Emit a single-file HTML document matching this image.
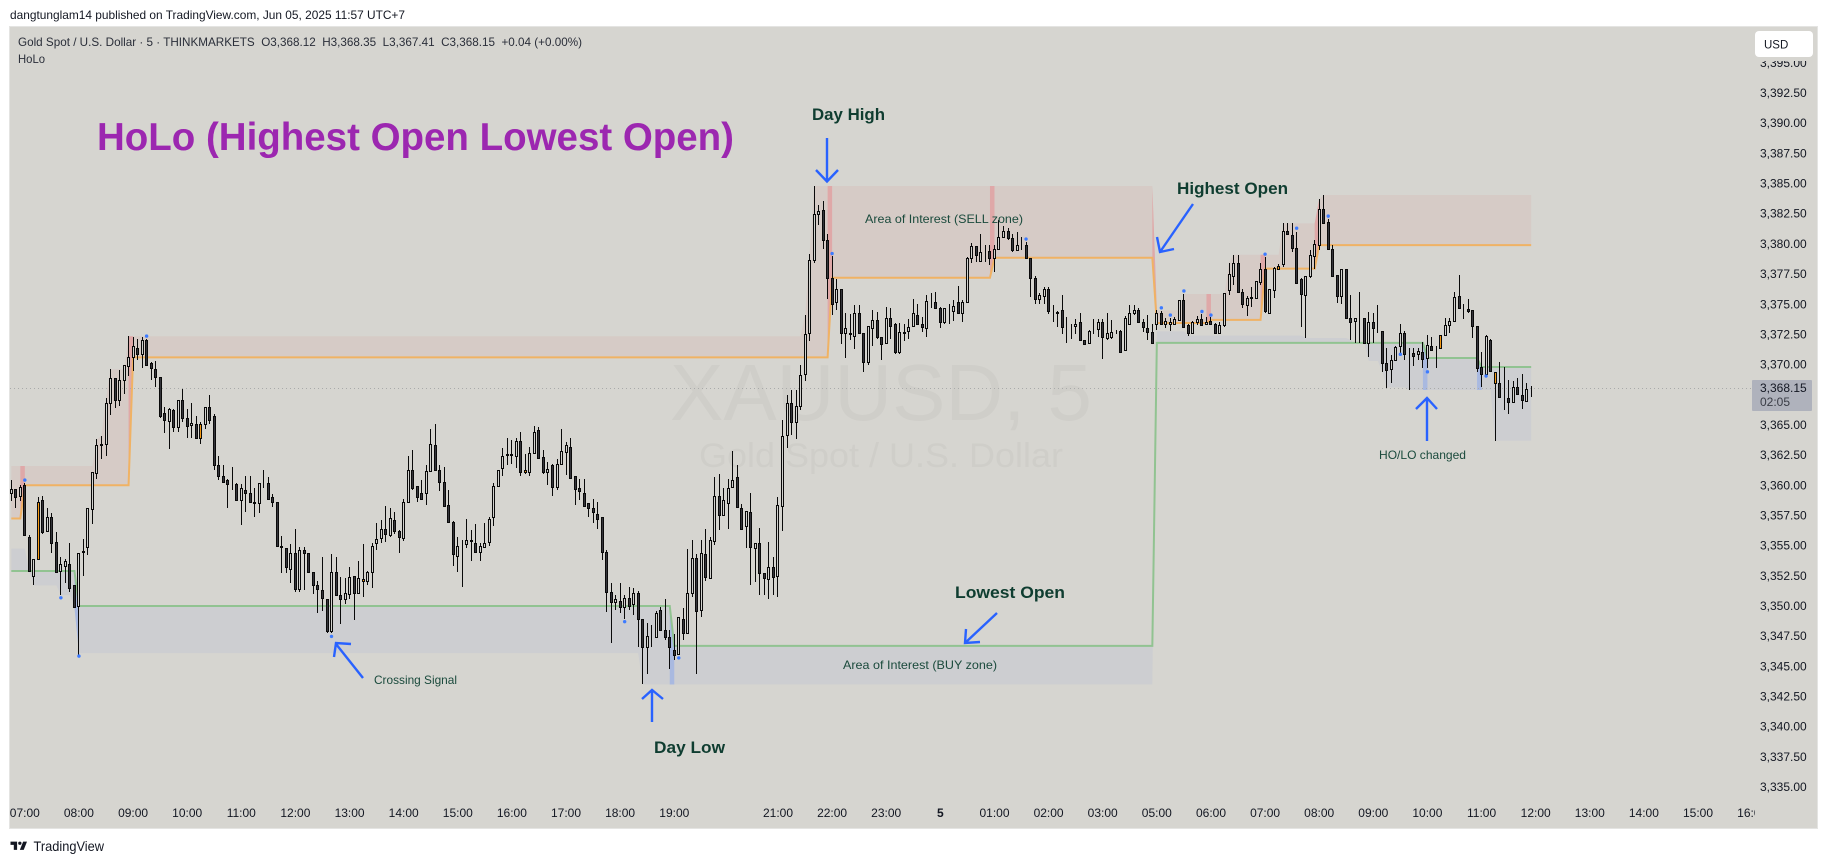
<!DOCTYPE html>
<html lang="en">
<head>
<meta charset="utf-8">
<title>HoLo XAUUSD chart</title>
<style>
html,body{margin:0;padding:0;background:#fff;width:1827px;height:863px;overflow:hidden}
svg{display:block;font-family:"Liberation Sans",sans-serif}
</style>
</head>
<body>
<svg id="chart-svg" xmlns="http://www.w3.org/2000/svg" width="1827" height="863" viewBox="0 0 1827 863">
<defs><clipPath id="time-clip"><rect x="10" y="790" width="1745" height="38"/></clipPath></defs>
<rect x="0" y="0" width="1827" height="863" fill="#ffffff"/>
<text x="10" y="19" font-size="12" fill="#131722" textLength="395" lengthAdjust="spacingAndGlyphs">dangtunglam14 published on TradingView.com, Jun 05, 2025 11:57 UTC+7</text>
<rect x="9.5" y="26.5" width="1808" height="802" fill="#d6d5d0" stroke="#e4e4e2" stroke-width="1"/>
<text x="881" y="420" font-size="80" text-anchor="middle" fill="#cfcec9" textLength="422" lengthAdjust="spacingAndGlyphs">XAUUSD, 5</text>
<text x="881" y="467" font-size="34" text-anchor="middle" fill="#cfcec9" textLength="364" lengthAdjust="spacingAndGlyphs">Gold Spot / U.S. Dollar</text>
<g id="zones"></g>
<line id="price-line" x1="10" x2="1752" y1="388.5" y2="388.5" stroke="#a9aaaa" stroke-width="1" stroke-dasharray="1 3"/>
<g id="lines"></g>
<g id="candles"></g>
<g id="dots"></g>
<g id="price-ticks"></g>
<g id="time-ticks" clip-path="url(#time-clip)"></g>
<rect x="1752" y="380" width="60" height="31" rx="1" fill="#afb2bc"/>
<text id="last-price-label" x="1760" y="392" font-size="12" fill="#131722">3,368.15</text>
<text x="1760" y="406" font-size="12" fill="#3a3d46">02:05</text>
<rect x="1755" y="56" width="58" height="5" fill="#d6d5d0"/>
<rect x="1755" y="31" width="58" height="26" rx="4" fill="#ffffff"/>
<text x="1764" y="48.5" font-size="11.5" fill="#131722">USD</text>
<text x="18" y="46" font-size="12" fill="#2a2e39" textLength="564" lengthAdjust="spacingAndGlyphs">Gold Spot / U.S. Dollar · 5 · THINKMARKETS&#160;&#160;O3,368.12&#160;&#160;H3,368.35&#160;&#160;L3,367.41&#160;&#160;C3,368.15&#160;&#160;+0.04 (+0.00%)</text>
<text x="18" y="63" font-size="12" fill="#2a2e39" textLength="27" lengthAdjust="spacingAndGlyphs">HoLo</text>
<text x="97" y="150" font-size="39" font-weight="700" fill="#9c27b0" textLength="637" lengthAdjust="spacingAndGlyphs">HoLo (Highest Open Lowest Open)</text>
<text x="812" y="120" font-size="17" font-weight="700" fill="#0f3d30" textLength="73" lengthAdjust="spacingAndGlyphs">Day High</text>
<text x="654" y="753" font-size="17" font-weight="700" fill="#0f3d30" textLength="71" lengthAdjust="spacingAndGlyphs">Day Low</text>
<text x="1177" y="194" font-size="17" font-weight="700" fill="#0f3d30" textLength="111" lengthAdjust="spacingAndGlyphs">Highest Open</text>
<text x="955" y="598" font-size="17" font-weight="700" fill="#0f3d30" textLength="110" lengthAdjust="spacingAndGlyphs">Lowest Open</text>
<text x="865" y="223" font-size="12" fill="#1a4a3c" textLength="158" lengthAdjust="spacingAndGlyphs">Area of Interest (SELL zone)</text>
<text x="843" y="669" font-size="12" fill="#1a4a3c" textLength="154" lengthAdjust="spacingAndGlyphs">Area of Interest (BUY zone)</text>
<text x="374" y="684" font-size="12" fill="#1a4a3c" textLength="83" lengthAdjust="spacingAndGlyphs">Crossing Signal</text>
<text x="1379" y="459" font-size="12" fill="#1a4a3c" textLength="87" lengthAdjust="spacingAndGlyphs">HO/LO changed</text>
<g fill="none" stroke="#2962ff" stroke-width="2.4">
<path d="M827 138V181M816 170L827 181.5L838 170"/>
<path d="M652 722V691M642 699L652 690L663 699"/>
<path d="M363 678L336 644M334 657L336 643L351 644"/>
<path d="M997 613L965 643M966 629L965 643L980 642"/>
<path d="M1193 204L1160 252M1157 237L1160 252L1174 249"/>
<path d="M1427 441V398M1416 409L1427 398L1437 409"/>
</g>
<path transform="translate(9.4 838.3) scale(.55)" fill="#131722" d="M14 6H2v6h6v9h6V6zm12 15h-7l6-15h7l-6 15zm-7-9a3 3 0 1 0 0-6 3 3 0 0 0 0 6z"/>
<text x="33.5" y="851" font-size="14" fill="#131722" textLength="70.5" lengthAdjust="spacingAndGlyphs">TradingView</text>
</svg>
<script>
// Bars are numbered from 1 (5-minute candles). Each row: open, high, low, close.
const candleRows=[
[3359.5,3360.5,3358.8,3359.76],[3359.8,3359.8,3358.2,3359.15],[3359.2,3360.1,3358.8,3360.0],[3360.1,3360.3,3355.9,3355.95],[3355.84,3356.0,3352.9,3353.0],
[3352.6,3354.0,3351.8,3354.0],[3354.0,3359.15,3354.0,3358.7],[3358.9,3359.2,3356.1,3356.25],[3356.3,3358.2,3356.3,3357.5],[3357.5,3357.8,3354.5,3355.35],
[3355.4,3356.25,3352.9,3352.95],[3353.0,3354.2,3351.0,3353.55],[3353.4,3354.0,3352.0,3353.8],[3353.6,3355.3,3351.3,3351.6],[3351.8,3351.8,3350.0,3350.0],
[3350.1,3354.5,3346.0,3354.5],[3354.6,3355.65,3352.6,3354.65],[3355.0,3358.25,3354.3,3358.25],[3358.15,3361.2,3356.9,3361.2],[3361.1,3363.9,3360.6,3363.4],
[3363.5,3364.2,3362.3,3363.4],[3363.5,3367.3,3362.5,3366.9],[3366.9,3369.7,3365.9,3369.0],[3369.0,3369.0,3366.5,3367.2],[3367.2,3369.65,3366.7,3368.8],
[3368.8,3370.1,3367.7,3370.1],[3370.0,3372.45,3369.15,3370.7],[3370.7,3372.4,3369.6,3371.6],[3371.5,3372.25,3370.5,3371.0],[3371.0,3372.35,3369.8,3372.1],
[3372.1,3372.25,3370.0,3370.1],[3370.2,3370.35,3368.8,3369.8],[3369.7,3370.4,3368.25,3369.05],[3369.05,3369.05,3365.65,3365.8],[3366.1,3366.55,3364.4,3365.55],
[3365.45,3366.5,3363.1,3366.4],[3366.3,3366.4,3364.55,3364.9],[3364.9,3367.2,3364.55,3367.2],[3367.2,3368.1,3365.35,3365.65],[3365.7,3366.4,3364.05,3365.05],
[3365.1,3366.9,3364.05,3365.3],[3365.2,3365.8,3364.05,3364.05],[3364.05,3365.35,3363.5,3365.2],[3365.2,3366.6,3364.8,3366.6],[3366.6,3367.55,3365.2,3365.55],
[3365.85,3366.0,3361.35,3361.75],[3361.8,3362.5,3360.5,3360.9],[3360.9,3361.8,3360.4,3360.4],[3360.5,3360.6,3358.2,3360.2],[3360.25,3361.6,3359.7,3360.3],
[3360.2,3360.3,3358.9,3358.9],[3358.9,3360.2,3356.85,3359.85],[3359.75,3360.9,3357.9,3359.5],[3359.5,3360.9,3358.6,3358.7],[3358.65,3359.85,3357.45,3358.7],
[3358.6,3360.3,3357.8,3360.25],[3360.25,3361.35,3359.9,3360.3],[3360.25,3360.75,3359.0,3359.0],[3359.1,3359.4,3358.3,3358.7],[3358.7,3358.75,3355.1,3355.1],
[3355.1,3355.9,3352.8,3355.0],[3354.9,3354.9,3352.8,3353.3],[3353.2,3355.2,3352.0,3354.5],[3354.5,3356.5,3351.3,3351.5],[3351.5,3355.0,3351.3,3354.7],
[3354.7,3355.0,3351.4,3354.5],[3354.5,3354.5,3352.95,3352.95],[3352.95,3352.95,3351.1,3351.8],[3351.8,3352.2,3349.5,3351.5],[3351.4,3354.2,3349.7,3350.8],
[3350.7,3350.7,3347.9,3348.0],[3348.0,3354.4,3347.9,3352.9],[3352.9,3354.2,3350.9,3351.0],[3351.0,3352.5,3348.6,3350.65],[3350.65,3352.4,3350.25,3351.2],
[3351.1,3353.3,3350.65,3352.5],[3352.6,3352.6,3348.9,3351.2],[3351.2,3353.8,3351.2,3352.4],[3352.15,3355.2,3350.85,3352.3],[3352.2,3353.0,3351.8,3352.95],
[3352.95,3355.3,3351.55,3355.1],[3355.35,3356.95,3354.75,3355.65],[3355.7,3357.2,3355.35,3356.45],[3356.45,3358.4,3355.4,3356.05],[3356.0,3358.2,3355.85,3357.35],
[3357.25,3357.9,3356.1,3356.3],[3356.3,3356.4,3354.45,3355.8],[3355.7,3358.95,3355.5,3358.75],[3358.7,3362.5,3358.7,3361.35],[3361.4,3363.0,3359.75,3359.9],
[3360.05,3360.05,3358.75,3359.15],[3359.5,3360.5,3358.9,3359.0],[3359.45,3361.75,3358.5,3361.25],[3361.25,3364.75,3361.25,3363.5],[3363.4,3365.2,3361.3,3361.35],
[3361.35,3361.8,3359.6,3360.4],[3360.4,3361.6,3358.3,3358.4],[3358.5,3359.7,3357.0,3357.1],[3357.1,3357.15,3353.4,3354.4],[3354.25,3355.85,3352.95,3355.1],
[3355.3,3355.56,3351.7,3355.3],[3355.2,3357.3,3354.9,3355.6],[3355.6,3356.4,3353.8,3355.5],[3355.35,3356.9,3354.5,3354.6],[3354.6,3355.3,3353.8,3355.1],
[3355.0,3357.0,3354.95,3355.35],[3355.4,3357.5,3355.1,3357.3],[3357.45,3360.25,3356.7,3360.05],[3360.05,3361.4,3360.05,3361.4],[3361.5,3363.2,3360.85,3362.5],
[3362.65,3364.0,3361.8,3362.7],[3362.65,3363.85,3361.9,3362.7],[3362.5,3364.0,3361.55,3363.8],[3363.8,3364.5,3360.85,3361.2],[3361.2,3362.7,3361.0,3361.4],
[3361.2,3363.3,3360.85,3362.75],[3362.75,3365.0,3362.75,3364.55],[3364.65,3364.9,3362.25,3362.4],[3362.45,3363.0,3361.0,3361.2],[3361.2,3362.05,3360.1,3361.45],
[3361.8,3361.9,3359.2,3360.0],[3360.0,3362.3,3359.7,3361.9],[3361.9,3364.75,3361.9,3362.9],[3362.85,3363.65,3360.95,3363.4],[3363.25,3364.0,3360.7,3360.7],
[3360.9,3360.9,3358.45,3359.8],[3359.9,3360.6,3358.85,3359.65],[3359.5,3360.6,3358.3,3358.4],[3358.6,3358.65,3357.5,3358.25],[3358.25,3359.0,3357.0,3357.9],
[3357.75,3358.75,3356.5,3357.3],[3357.5,3357.5,3353.9,3354.6],[3354.6,3354.7,3349.6,3351.3],[3351.3,3352.0,3347.05,3350.45],[3350.4,3351.0,3349.75,3350.65],
[3350.55,3352.0,3349.5,3350.0],[3350.0,3351.0,3349.05,3350.75],[3350.75,3351.65,3349.75,3350.1],[3350.3,3351.55,3349.35,3351.2],[3351.2,3351.35,3346.7,3349.05],
[3349.05,3349.05,3343.6,3346.7],[3346.7,3348.7,3344.45,3347.65],[3347.6,3348.5,3346.7,3347.6],[3347.55,3349.7,3347.55,3349.55],[3349.8,3350.0,3348.0,3348.1],
[3348.15,3350.65,3347.3,3347.55],[3347.55,3348.15,3344.9,3346.7],[3346.45,3347.75,3345.6,3346.0],[3346.15,3349.2,3346.0,3349.2],[3349.05,3349.9,3347.3,3347.85],
[3347.9,3354.8,3347.9,3351.15],[3351.2,3355.55,3350.85,3354.05],[3354.1,3354.4,3344.45,3349.7],[3349.8,3355.55,3349.2,3354.45],[3354.4,3356.45,3352.2,3352.5],
[3352.45,3355.85,3352.3,3355.6],[3355.5,3360.75,3355.15,3359.25],[3359.2,3361.0,3356.4,3357.65],[3357.65,3359.85,3357.6,3358.85],[3358.65,3360.6,3356.5,3359.85],
[3360.0,3362.9,3359.95,3360.5],[3360.75,3361.8,3358.3,3358.3],[3358.2,3358.55,3356.4,3356.45],[3356.75,3358.0,3354.9,3358.0],[3357.85,3359.5,3351.85,3355.0],
[3354.9,3355.3,3352.1,3355.3],[3355.35,3356.6,3351.0,3352.85],[3352.8,3352.8,3351.0,3352.45],[3352.35,3355.4,3350.7,3353.3],[3353.3,3354.2,3351.0,3352.5],
[3352.6,3359.15,3350.85,3358.5],[3358.4,3365.55,3356.35,3364.2],[3364.3,3367.6,3363.15,3366.95],[3366.95,3368.0,3364.3,3365.35],[3365.35,3368.0,3363.9,3366.7],
[3366.7,3370.05,3366.3,3369.2],[3369.3,3374.2,3368.7,3372.6],[3372.7,3379.25,3372.05,3378.75],[3378.8,3384.9,3378.5,3382.6],[3382.55,3383.35,3381.65,3382.8],
[3382.9,3383.65,3379.65,3380.4],[3380.4,3380.9,3375.55,3377.3],[3377.25,3379.1,3374.2,3375.15],[3375.3,3377.2,3374.6,3376.4],[3376.4,3376.4,3371.8,3372.75],
[3372.75,3374.35,3370.65,3373.1],[3372.7,3374.3,3372.1,3372.65],[3372.5,3375.0,3371.4,3374.4],[3374.4,3375.0,3372.7,3372.75],[3372.75,3372.75,3369.5,3370.35],
[3370.35,3373.3,3370.05,3373.3],[3373.15,3374.6,3371.6,3373.8],[3373.8,3374.45,3372.25,3372.35],[3372.35,3372.35,3370.45,3371.8],[3371.85,3374.9,3371.85,3374.0],
[3374.0,3374.75,3372.25,3373.3],[3373.45,3373.55,3370.95,3371.15],[3371.15,3373.55,3371.0,3372.8],[3372.75,3373.5,3372.05,3372.8],[3372.85,3373.85,3372.25,3373.2],
[3373.3,3375.5,3373.2,3374.4],[3374.25,3375.15,3373.45,3373.5],[3373.5,3374.05,3372.8,3373.2],[3373.1,3375.85,3372.4,3375.4],[3375.4,3376.05,3374.75,3375.35],
[3375.3,3376.1,3374.75,3374.8],[3374.8,3374.9,3373.1,3373.65],[3373.6,3374.8,3373.5,3374.8],[3374.6,3375.1,3373.5,3374.6],[3374.5,3375.45,3373.7,3374.95],
[3375.25,3376.65,3374.4,3374.4],[3374.4,3375.45,3373.65,3375.25],[3375.3,3379.0,3375.2,3378.95],[3378.95,3380.15,3378.55,3379.95],[3379.95,3379.95,3378.6,3379.2],
[3378.7,3380.9,3378.6,3379.4],[3379.55,3380.0,3378.6,3379.55],[3379.5,3380.0,3378.35,3378.95],[3378.95,3380.0,3377.8,3379.7],[3379.7,3382.05,3379.7,3380.65],
[3380.7,3381.55,3380.65,3381.15],[3381.15,3381.4,3380.45,3380.6],[3380.6,3380.9,3379.45,3379.6],[3379.6,3381.1,3379.6,3380.0],[3380.0,3380.65,3379.6,3380.0],
[3380.0,3380.25,3378.85,3378.9],[3378.9,3378.9,3375.7,3377.3],[3377.3,3377.4,3375.15,3375.5],[3375.5,3376.0,3375.15,3375.85],[3375.8,3376.5,3375.15,3376.35],
[3376.35,3376.5,3374.3,3374.55],[3374.5,3375.0,3373.6,3374.5],[3374.45,3374.55,3373.25,3374.4],[3374.6,3375.9,3372.65,3373.25],[3373.3,3374.05,3371.85,3373.3],
[3373.25,3373.5,3372.2,3373.25],[3373.3,3373.9,3372.65,3373.5],[3373.65,3374.4,3372.1,3372.1],[3372.1,3372.1,3371.8,3371.8],[3371.9,3372.95,3371.85,3372.9],
[3373.05,3373.9,3372.65,3373.05],[3373.05,3373.85,3372.4,3373.65],[3373.65,3373.9,3370.6,3372.35],[3372.3,3374.4,3372.1,3372.75],[3372.35,3373.8,3372.2,3372.8],
[3372.75,3372.95,3372.6,3372.75],[3372.9,3372.95,3371.15,3371.15],[3371.3,3374.1,3371.25,3374.0],[3373.5,3375.0,3373.35,3374.4],[3374.4,3375.0,3374.2,3374.6],
[3374.65,3374.75,3373.6,3373.65],[3373.6,3373.9,3372.8,3373.25],[3373.15,3374.2,3372.1,3372.8],[3372.8,3373.5,3371.8,3371.85],[3373.5,3374.6,3372.95,3374.35],
[3374.35,3374.5,3373.45,3373.5],[3373.5,3373.95,3373.1,3373.75],[3373.5,3373.95,3372.9,3373.65],[3373.5,3374.05,3373.45,3373.85],[3373.8,3375.45,3373.75,3375.45],
[3375.45,3375.95,3373.2,3373.25],[3373.35,3373.45,3372.5,3372.75],[3372.75,3373.75,3372.7,3373.6],[3373.65,3374.1,3373.35,3373.85],[3373.85,3374.3,3373.3,3373.35],
[3373.5,3374.05,3373.45,3373.65],[3373.75,3374.05,3373.35,3373.45],[3373.5,3373.55,3372.65,3372.7],[3372.75,3373.65,3372.7,3373.35],[3373.35,3376.0,3373.25,3376.0],
[3376.3,3378.55,3375.85,3377.6],[3377.45,3379.2,3376.7,3378.5],[3378.55,3379.15,3376.1,3376.15],[3376.1,3376.35,3374.8,3375.1],[3375.0,3375.8,3374.15,3375.6],
[3375.65,3376.55,3374.85,3375.7],[3375.65,3377.0,3375.6,3377.0],[3376.95,3378.5,3376.7,3378.0],[3378.0,3379.0,3374.35,3374.5],[3374.35,3376.35,3374.3,3376.35],
[3376.25,3378.2,3375.6,3378.1],[3378.05,3378.4,3377.95,3378.3],[3378.4,3381.8,3378.2,3381.2],[3381.2,3381.8,3380.85,3380.9],[3380.8,3381.8,3379.45,3379.8],
[3379.8,3381.1,3376.75,3376.85],[3377.2,3377.25,3373.25,3375.95],[3375.9,3377.4,3372.3,3377.4],[3377.45,3379.6,3377.25,3379.2],[3379.1,3380.4,3378.05,3380.1],
[3380.0,3383.8,3379.6,3382.95],[3382.95,3384.15,3381.75,3381.85],[3381.9,3382.15,3379.65,3379.7],[3379.65,3380.0,3377.4,3377.45],[3377.5,3377.5,3375.2,3375.8],
[3375.8,3378.05,3375.15,3378.0],[3378.0,3378.0,3373.85,3374.0],[3373.95,3375.9,3372.15,3373.65],[3373.75,3373.95,3371.85,3373.95],[3373.9,3376.1,3371.9,3373.9],
[3373.95,3373.95,3371.85,3371.9],[3371.85,3374.45,3370.75,3373.6],[3373.6,3374.35,3371.85,3373.1],[3373.0,3375.05,3372.7,3373.0],[3372.85,3372.9,3369.5,3370.2],
[3370.2,3371.45,3368.2,3369.65],[3369.7,3370.9,3368.55,3370.45],[3370.45,3371.65,3370.4,3371.55],[3371.6,3373.45,3370.9,3372.7],[3372.7,3372.9,3370.45,3370.95],
[3371.0,3371.45,3368.0,3371.0],[3371.05,3371.5,3369.95,3370.85],[3370.95,3371.5,3370.45,3371.2],[3371.15,3371.95,3369.8,3370.6],[3370.65,3372.55,3369.8,3371.75],
[3371.65,3372.4,3371.3,3371.35],[3371.4,3371.6,3369.85,3371.4],[3371.45,3372.55,3371.45,3372.55],[3372.55,3373.95,3372.55,3373.35],[3373.35,3373.95,3372.7,3373.75],
[3373.75,3376.1,3373.75,3375.7],[3375.75,3377.55,3374.7,3374.75],[3374.7,3375.1,3373.85,3374.7],[3374.7,3375.55,3374.4,3374.5],[3374.6,3374.6,3372.3,3373.3],
[3373.3,3373.3,3369.5,3369.85],[3369.9,3371.15,3368.25,3369.3],[3369.35,3372.55,3369.3,3372.45],[3372.15,3372.2,3369.5,3369.55],[3369.45,3369.5,3363.8,3368.6],
[3368.6,3370.35,3367.35,3367.4],[3367.4,3369.9,3366.3,3367.4],[3367.3,3368.8,3366.0,3367.0],[3367.0,3368.75,3367.0,3368.25],[3368.25,3368.95,3367.55,3367.7],
[3367.6,3369.3,3366.45,3367.2],[3367.1,3368.55,3367.1,3368.1],[3368.12,3368.35,3367.41,3368.15]
];
// Bars where the candle is painted orange by the indicator
const orangeBars=[7,43,79,115,282,318,330];
const lastPrice=3368.15;

// HoLo step series: the first bar of each level, and the level
const highestOpenBars=[1,4,28,183,219,255,267,279,291];
const highestOpenValues=[3357.35,3360.1,3370.7,3377.3,3378.95,3373.55,3373.8,3378.05,3380.0];
const lowestOpenBars=[1,16,148,255,315,327];
const lowestOpenValues=[3353.0,3350.1,3346.8,3371.9,3370.65,3369.9];
const dayHighBars=[1,20,21,22,23,27,177,178,179,255,261,271,272,283,291,292];
const dayHighValues=[3361.7,3363.9,3364.2,3367.3,3369.7,3372.45,3374.2,3379.25,3384.9,3374.6,3375.95,3378.55,3379.2,3381.8,3383.8,3384.15];
const dayLowBars=[1,5,6,12,15,16,141,255,262,288,298,299,302,305,306,311,330];
const dayLowValues=[3354.85,3352.95,3351.8,3351.0,3350.0,3346.2,3343.6,3372.85,3372.5,3372.3,3372.15,3371.85,3370.4,3369.5,3368.2,3368.0,3363.8];
const sellChangeBars=[4,28,183,219,255,267,279,291];
const buyChangeBars=[16,148,315,327];

// Crossing signal dots
const signalBars=[4,12,16,31,72,137,149,183,226,256,258,261,265,267,279,286,293,309,315,328];
const signalPrices=[3360.53,3350.78,3345.95,3372.46,3347.58,3348.8,3345.8,3379.3,3380.5,3374.8,3374.2,3376.2,3374.5,3374.2,3379.25,3381.4,3382.4,3370.95,3369.5,3369.15];

// Axis ticks
const priceTicks=[3395,3392.5,3390,3387.5,3385,3382.5,3380,3377.5,3375,3372.5,3370,3365,3362.5,3360,3357.5,3355,3352.5,3350,3347.5,3345,3342.5,3340,3337.5,3335];
const timeTickLabels=["07:00","08:00","09:00","10:00","11:00","12:00","13:00","14:00","15:00","16:00","17:00","18:00","19:00","21:00","22:00","23:00","5","01:00","02:00","03:00","05:00","06:00","07:00","08:00","09:00","10:00","11:00","12:00","13:00","14:00","15:00","16:00"];
const timeTickBars=[4,16,28,40,52,64,76,88,100,112,124,136,148,171,183,195,207,219,231,243,255,267,279,291,303,315,327,339,351,363,375,387];

const NS='http://www.w3.org/2000/svg';
function xOf(bar){return 11.3+4.51*(bar-1);}
function yOf(price){return 365.8+(3370-price)*12.07;}
function stepAt(bars,values,bar){let v=values[0];for(let i=0;i<bars.length;i++){if(bars[i]<=bar)v=values[i];}return v;}
function mk(tag,parent,attrs){const el=document.createElementNS(NS,tag);for(const k in attrs)el.setAttribute(k,attrs[k]);parent.appendChild(el);return el;}

const barCount=candleRows.length;
const barNums=[];for(let b=1;b<=barCount;b++)barNums.push(b);
const zones=document.getElementById('zones');
const lines=document.getElementById('lines');
const candles=document.getElementById('candles');
const dots=document.getElementById('dots');
const priceAxis=document.getElementById('price-ticks');
const timeAxis=document.getElementById('time-ticks');

function bandPath(topB,topV,botB,botV,from,to){
  let up='',down='';
  for(let b=from;b<=to;b++){up+=(up?'L':'M')+xOf(b).toFixed(2)+' '+yOf(stepAt(topB,topV,b)).toFixed(2);}
  for(let b=to;b>=from;b--){down+='L'+xOf(b).toFixed(2)+' '+yOf(stepAt(botB,botV,b)).toFixed(2);}
  return up+down+'Z';
}
function linePath(bars,values){
  let d='';
  barNums.forEach(b=>{d+=(d?'L':'M')+xOf(b).toFixed(2)+' '+yOf(stepAt(bars,values,b)).toFixed(2);});
  return d;
}

const sellZone=mk('path',zones,{d:bandPath(dayHighBars,dayHighValues,highestOpenBars,highestOpenValues,1,barCount),fill:'#d6cbc6'});


const buyZone=mk('path',zones,{d:bandPath(dayLowBars,dayLowValues,lowestOpenBars,lowestOpenValues,1,barCount),fill:'#cdced1'});


sellChangeBars.forEach(b=>{
  const m=mk('path',zones,{d:bandPath(dayHighBars,dayHighValues,highestOpenBars,highestOpenValues,b-1,b),fill:'#dfa8a8'});
  
  
});
buyChangeBars.forEach(b=>{
  const m=mk('path',zones,{d:bandPath(dayLowBars,dayLowValues,lowestOpenBars,lowestOpenValues,b-1,b),fill:'#a9b9e0'});
  
  
});

const priceLine=document.getElementById('price-line');
const lastY=Math.round(yOf(lastPrice))+0.5;
priceLine.setAttribute('y1',lastY);
priceLine.setAttribute('y2',lastY);

const hoLine=mk('path',lines,{d:linePath(highestOpenBars,highestOpenValues),fill:'none',stroke:'#f0b264','stroke-width':2});


const loLine=mk('path',lines,{d:linePath(lowestOpenBars,lowestOpenValues),fill:'none',stroke:'#91c391','stroke-width':2});



candleRows.forEach((row,i)=>{
  const bar=i+1,o=row[0],h=row[1],l=row[2],c=row[3];
  const X=Math.floor(xOf(bar))+0.5;
  const wick=mk('line',candles,{x1:X,x2:X,y1:Math.round(yOf(h)),y2:Math.round(yOf(l)),stroke:'#0a0a0a','stroke-width':1});
  
  
  const top=Math.round(yOf(Math.max(o,c)))+0.5,bot=Math.round(yOf(Math.min(o,c)))+0.5;
  const fill=orangeBars.indexOf(bar)>=0?'#f59a13':(c>=o?'#d2d2ce':'#34343a');
  const body=mk('rect',candles,{x:X-1,y:top,width:2,height:bot-top,fill:fill,stroke:'#0a0a0a','stroke-width':1});
  
  
});

signalBars.forEach((b,i)=>{
  const d=mk('circle',dots,{cx:xOf(b).toFixed(2),cy:yOf(signalPrices[i]).toFixed(2),r:1.7,fill:'#3d7bff'});
  
  
});

priceTicks.forEach(p=>{
  const t=mk('text',priceAxis,{x:1806.7,y:(yOf(p)+2.8).toFixed(1),'text-anchor':'end','font-size':12,fill:'#131722'});
  t.textContent=p.toLocaleString('en-US',{minimumFractionDigits:2,maximumFractionDigits:2});
  
  
});

timeTickLabels.forEach((label,i)=>{
  const bold=label==='5';
  const t=mk('text',timeAxis,{x:xOf(timeTickBars[i]).toFixed(1),y:817,'text-anchor':'middle','font-size':12,fill:'#131722','font-weight':bold?700:400});
  t.textContent=label;
  
  
});

document.getElementById('last-price-label').textContent=lastPrice.toLocaleString('en-US',{minimumFractionDigits:2});
</script>
</body>
</html>
